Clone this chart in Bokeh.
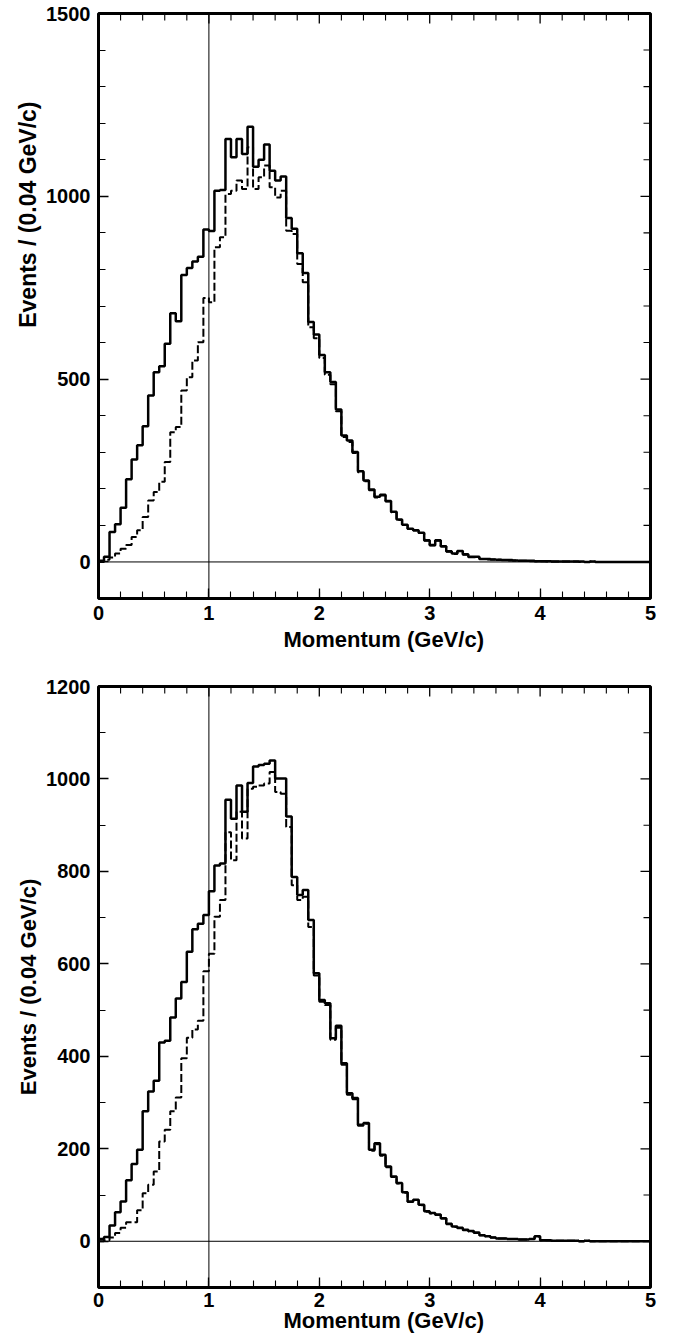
import numpy as np
from bokeh.plotting import figure
from bokeh.models import Range1d, LinearAxis, SingleIntervalTicker, Span, Title
from bokeh.layouts import column
from bokeh.embed import file_html
from bokeh.resources import INLINE

# ---------------- data ----------------
bin_width = 0.05          # GeV/c
x_start, x_end = 0.0, 5.0
x_title = "Momentum (GeV/c)"
y_title = "Events / (0.04 GeV/c)"

top_solid = [3, 14, 82, 103, 148, 226, 280, 319, 371, 455,
             519, 535, 597, 680, 658, 785, 804, 822, 835, 909,
             905, 1015, 1017, 1157, 1107, 1157, 1116, 1190, 1081, 1100,
             1142, 1070, 1043, 1054, 941, 911, 844, 790, 656, 622,
             566, 519, 492, 417, 346, 332, 301, 248, 223, 198,
             178, 184, 167, 137, 116, 102, 91, 87, 80, 59,
             46, 59, 43, 29, 23, 30, 21, 14, 14, 8,
             8, 7, 6, 5, 5, 4, 3, 3, 3, 2,
             2, 2, 1, 1, 1, 1, 1, 1, 0, 1,
             0, 0, 0, 0, 0, 0, 0, 0, 0, 0]

top_dashed = [0, 6, 12, 23, 36, 46, 68, 87, 123, 168,
              191, 219, 273, 355, 369, 469, 505, 551, 601, 722,
              710, 861, 888, 1006, 1015, 1043, 1020, 1134, 1020, 1052,
              1084, 1025, 997, 1015, 906, 897, 815, 765, 642, 612,
              558, 512, 486, 412, 342, 328, 298, 245, 221, 196,
              176, 182, 165, 136, 115, 101, 90, 86, 79, 58,
              45, 58, 42, 28, 22, 29, 20, 13, 13, 8,
              7, 7, 6, 5, 4, 4, 3, 3, 2, 2,
              2, 1, 1, 1, 1, 1, 1, 0, 0, 1,
              0, 0, 0, 0, 0, 0, 0, 0, 0, 0]

bottom_solid = [5, 9, 34, 63, 86, 132, 167, 198, 281, 324,
                347, 430, 434, 484, 525, 561, 626, 675, 687, 706,
                757, 813, 817, 955, 914, 986, 929, 991, 1027, 1030,
                1033, 1040, 1001, 1001, 919, 788, 749, 760, 695, 580,
                522, 515, 439, 466, 385, 320, 310, 252, 256, 198,
                212, 187, 162, 140, 126, 106, 86, 90, 79, 65,
                61, 58, 50, 38, 32, 29, 25, 22, 19, 13,
                11, 8, 6, 6, 5, 5, 4, 4, 5, 11,
                2, 2, 1, 1, 1, 1, 1, 0, 1, 0,
                0, 0, 0, 0, 0, 0, 0, 0, 0, 0]

bottom_dashed = [0, 2, 8, 18, 29, 41, 41, 67, 104, 122,
                 151, 216, 241, 281, 311, 396, 440, 458, 477, 584,
                 622, 702, 738, 885, 824, 929, 871, 979, 983, 986,
                 990, 1015, 972, 968, 896, 770, 738, 745, 680, 575,
                 518, 511, 436, 462, 382, 317, 307, 250, 254, 196,
                 210, 185, 160, 139, 125, 105, 85, 89, 78, 64,
                 60, 57, 49, 37, 31, 28, 24, 21, 18, 13,
                 11, 8, 6, 6, 5, 5, 4, 4, 5, 10,
                 2, 2, 1, 1, 1, 1, 1, 0, 1, 0,
                 0, 0, 0, 0, 0, 0, 0, 0, 0, 0]

top_y_range = (-100, 1500)
top_y_major = 500
bottom_y_range = (-100, 1200)
bottom_y_major = 200
y_minor_step = 100
x_major = 1.0
x_minor_step = 0.2
ref_x = 1.0
ref_y = 0.0

FONT = "Liberation Sans"
MAJOR_LEN = 10
MINOR_LEN = 7


def edges_and_steps(vals):
    n = len(vals)
    xs = [x_start + i * bin_width for i in range(n + 1)]
    ys = list(vals) + [vals[-1]]
    return xs, ys


def style_axis(ax, standoff):
    ax.axis_line_color = None
    ax.major_tick_in = MAJOR_LEN
    ax.major_tick_out = 0
    ax.minor_tick_in = MINOR_LEN
    ax.minor_tick_out = 0
    ax.major_tick_line_color = "black"
    ax.minor_tick_line_color = "black"
    ax.major_tick_line_width = 1.3
    ax.minor_tick_line_width = 1.1
    ax.major_label_text_font = FONT
    ax.major_label_text_font_style = "bold"
    ax.major_label_text_font_size = "20px"
    ax.major_label_text_color = "black"
    ax.major_label_standoff = standoff


def make_panel(solid, dashed, y_range, y_major, width, height,
               bl, br, bt, bb, ytitle_align, ytitle_offset, ytitle_size,
               xtitle_offset, x_standoff, xtitle_standoff):
    p = figure(width=width, height=height, output_backend="svg",
               toolbar_location=None, x_range=Range1d(x_start, x_end),
               y_range=Range1d(*y_range), min_border_left=bl,
               min_border_right=br, min_border_top=bt, min_border_bottom=bb,
               x_axis_location=None, y_axis_location=None)
    p.xgrid.visible = False
    p.ygrid.visible = False
    p.outline_line_color = "black"
    p.outline_line_width = 3
    p.background_fill_color = "white"
    p.border_fill_color = "white"

    n_y_minor = int(round(y_major / y_minor_step))
    bottom = LinearAxis(ticker=SingleIntervalTicker(interval=x_major, num_minor_ticks=5))
    style_axis(bottom, x_standoff)
    p.add_layout(bottom, "below")
    left = LinearAxis(ticker=SingleIntervalTicker(interval=y_major, num_minor_ticks=n_y_minor))
    style_axis(left, 8)
    p.add_layout(left, "left")

    # inward ticks on the top and right frame edges
    x_major_pos = np.arange(x_start, x_end + 1e-9, x_major)
    x_minor_pos = [v for v in np.arange(x_start, x_end + 1e-9, x_minor_step)
                   if abs(v / x_major - round(v / x_major)) > 1e-6]
    y_first = np.ceil(y_range[0] / y_minor_step) * y_minor_step
    y_all = np.arange(y_first, y_range[1] + 1e-9, y_minor_step)
    y_major_pos = [v for v in y_all if abs(v % y_major) < 1e-6]
    y_minor_pos = [v for v in y_all if abs(v % y_major) >= 1e-6]

    p.ray(x=list(x_major_pos), y=[y_range[1]] * len(x_major_pos), length=MAJOR_LEN,
          length_units="screen", angle=-np.pi / 2, line_color="black", line_width=1.3)
    p.ray(x=x_minor_pos, y=[y_range[1]] * len(x_minor_pos), length=MINOR_LEN,
          length_units="screen", angle=-np.pi / 2, line_color="black", line_width=1.1)
    p.ray(x=[x_end] * len(y_major_pos), y=y_major_pos, length=MAJOR_LEN,
          length_units="screen", angle=np.pi, line_color="black", line_width=1.3)
    p.ray(x=[x_end] * len(y_minor_pos), y=y_minor_pos, length=MINOR_LEN,
          length_units="screen", angle=np.pi, line_color="black", line_width=1.1)

    p.add_layout(Span(location=ref_x, dimension="height", line_color="black", line_width=1))
    p.add_layout(Span(location=ref_y, dimension="width", line_color="black", line_width=1))

    xs, ys = edges_and_steps(dashed)
    p.step(xs, ys, mode="after", line_color="black", line_width=2, line_dash="8 3")
    xs, ys = edges_and_steps(solid)
    p.step(xs, ys, mode="after", line_color="black", line_width=2.5)

    yt = Title(text=y_title, align=ytitle_align, offset=ytitle_offset, standoff=6,
               text_font=FONT, text_font_style="bold", text_font_size=ytitle_size,
               text_color="black")
    p.add_layout(yt, "left")
    xt = Title(text=x_title, align="left", offset=xtitle_offset, standoff=xtitle_standoff,
               text_font=FONT, text_font_style="bold", text_font_size="22px",
               text_color="black")
    p.add_layout(xt, "below")
    return p


p1 = make_panel(top_solid, top_dashed, top_y_range, top_y_major,
                682, 660, 98, 32, 13, 62, "right", 88, "23px", 185, 7, 5)
p2 = make_panel(bottom_solid, bottom_dashed, bottom_y_range, bottom_y_major,
                682, 678, 96, 29, 26, 51, "center", 0, "22px", 185, 5, -8)

layout = column(p1, p2, spacing=0)
open("out.html", "w").write(file_html(layout, INLINE))
